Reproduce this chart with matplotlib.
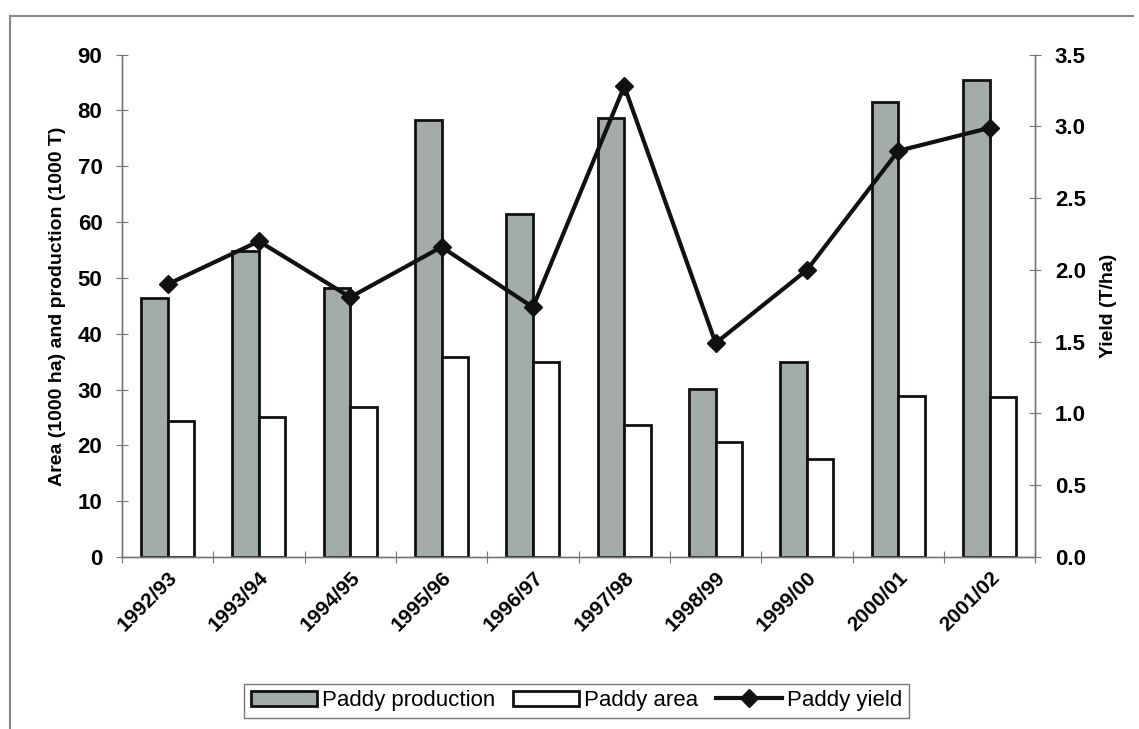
import matplotlib

matplotlib.use("Agg")
import matplotlib.pyplot as plt
import numpy as np
from matplotlib.lines import Line2D

plt.rcParams["font.family"] = ["Liberation Sans", "DejaVu Sans"]

seasons = ["1992/93", "1993/94", "1994/95", "1995/96", "1996/97",
           "1997/98", "1998/99", "1999/00", "2000/01", "2001/02"]
production = [46.4, 54.9, 48.2, 78.3, 61.4, 78.7, 30.1, 35.0, 81.6, 85.4]
area = [24.4, 25.0, 26.9, 35.9, 35.0, 23.6, 20.6, 17.6, 28.9, 28.6]
yield_ = [1.90, 2.20, 1.81, 2.16, 1.74, 3.28, 1.49, 2.00, 2.83, 2.99]

fig = plt.figure(figsize=(11.39, 7.29), dpi=100)
ax = fig.add_axes([0.107, 0.236, 0.802, 0.689])
ax2 = ax.twinx()

x = np.arange(len(seasons))
w = 0.29
ax.bar(x - w / 2, production, w, color="#a3abab", edgecolor="#111111",
       linewidth=2, label="Paddy production", zorder=2)
ax.bar(x + w / 2, area, w, color="white", edgecolor="#111111",
       linewidth=2, label="Paddy area", zorder=2)
ax2.plot(x, yield_, "-D", color="#111111", linewidth=3, markersize=9,
         label="Paddy yield", zorder=3)

ax.set_xlim(-0.5, len(seasons) - 0.5)
ax.set_ylim(0, 90)
ax.set_yticks(range(0, 91, 10))
ax2.set_ylim(0, 3.5)
ax2.set_yticks(np.arange(0, 3.51, 0.5))
ax2.set_yticklabels([f"{v:.1f}" for v in np.arange(0, 3.51, 0.5)])

# ticks between categories, labels at centres
ax.set_xticks(np.arange(-0.5, len(seasons), 1.0))
ax.set_xticklabels([])
ax.set_xticks(x, minor=True)
ax.set_xticklabels(seasons, minor=True, rotation=45, ha="right",
                   rotation_mode="anchor", fontsize=15, fontweight="bold")
ax.tick_params(axis="x", which="minor", length=0, pad=8)
ax.tick_params(axis="x", which="major", direction="inout", length=8,
               color="#777777")
ax.tick_params(axis="y", direction="inout", length=8, color="#777777",
               labelsize=16, pad=10)
ax2.tick_params(axis="y", direction="inout", length=8, color="#777777",
                labelsize=16, pad=10)
for lab in ax.get_yticklabels() + ax2.get_yticklabels():
    lab.set_fontweight("bold")

for a in (ax, ax2):
    a.spines["top"].set_visible(False)
    for s in ("left", "right", "bottom"):
        a.spines[s].set_color("#777777")
        a.spines[s].set_linewidth(1)
ax2.set_zorder(ax.get_zorder() + 1)
ax2.patch.set_visible(False)

ax.set_ylabel("Area (1000 ha) and production (1000 T)", fontsize=14,
              fontweight="bold", labelpad=8)
ax2.set_ylabel("Yield (T/ha)", fontsize=14, fontweight="bold", labelpad=10)

handles = [ax.patches[0], ax.patches[len(seasons)], ax2.lines[0]]
leg = fig.legend(handles, ["Paddy production", "Paddy area", "Paddy yield"],
                 loc="lower center", bbox_to_anchor=(0.506, 0.0), ncol=3,
                 fontsize=16, frameon=True, fancybox=False, handlelength=3.0,
                 handletextpad=0.2, columnspacing=0.8, borderpad=0.3)
leg.get_frame().set_edgecolor("#555555")
leg.get_frame().set_linewidth(1)

# partial outer frame
fig.add_artist(Line2D([0.009, 0.009], [0.0, 0.978], color="#888888", lw=1.5))
fig.add_artist(Line2D([0.009, 0.995], [0.978, 0.978], color="#888888", lw=1.5))

fig.savefig("out.png")
